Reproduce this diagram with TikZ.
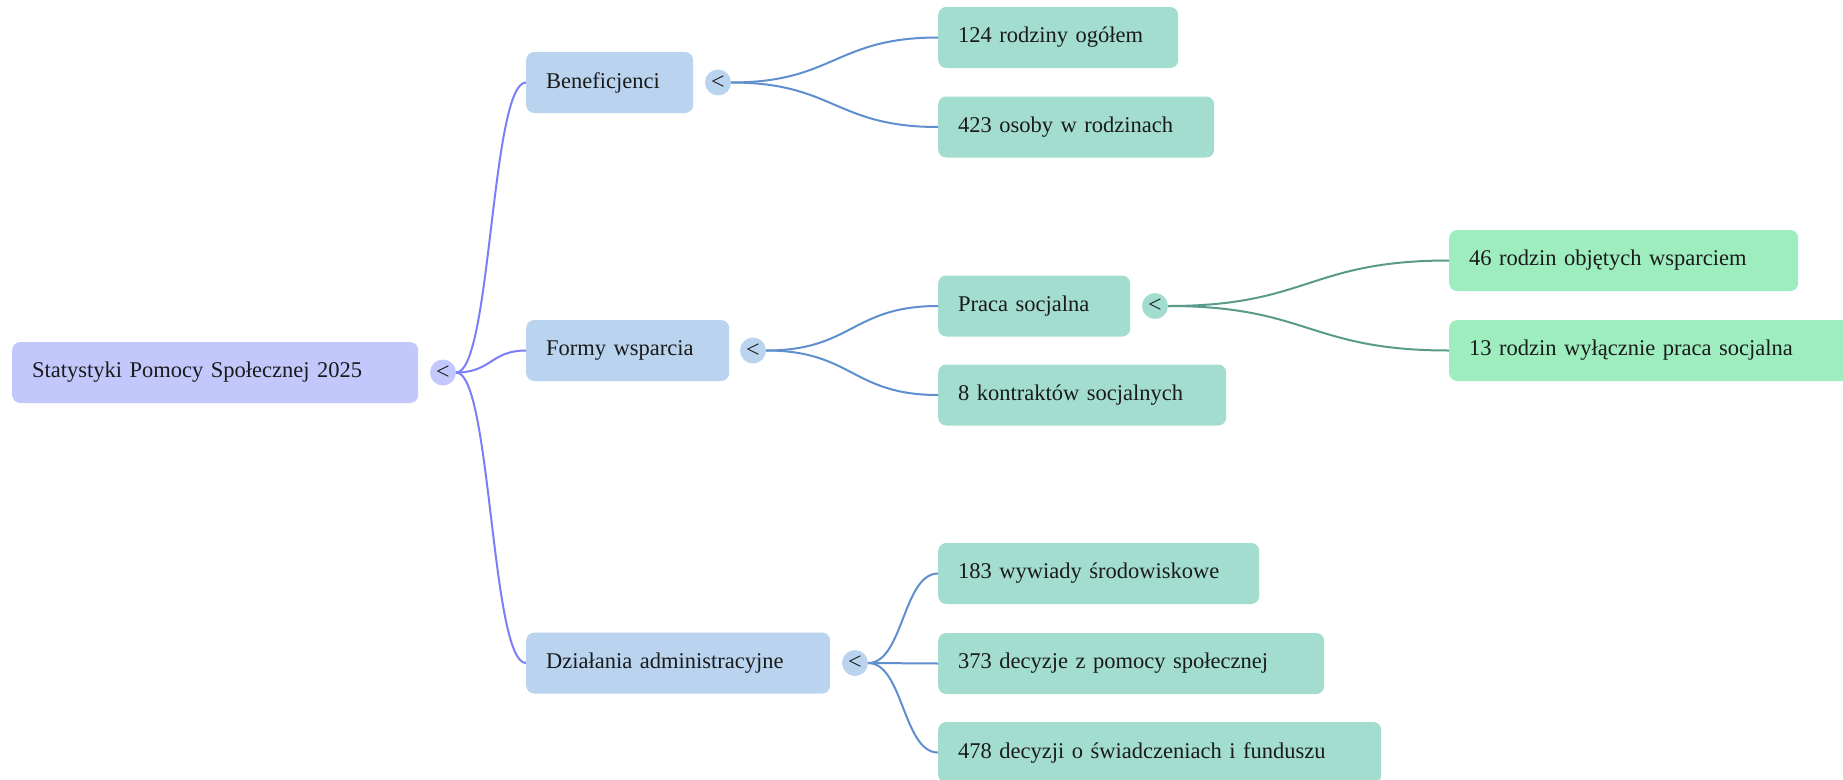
\documentclass[tikz,border=0pt]{standalone}
\usepackage{fontspec}
\setmainfont{Liberation Serif}
\definecolor{rootc}{HTML}{C3C8FC}
\definecolor{lonec}{HTML}{BAD4EF}
\definecolor{ltwoc}{HTML}{A2DDD0}
\definecolor{lthreec}{HTML}{9EEDBF}
\definecolor{rootedgec}{HTML}{7B7EF7}
\definecolor{loneedgec}{HTML}{5F8FCF}
\definecolor{ltwoedgec}{HTML}{5A9A8A}
\definecolor{txtc}{HTML}{1A1A1A}
\begin{document}
\begin{tikzpicture}[x=1pt,y=-1pt,
  box/.style={rounded corners=8pt, minimum height=61pt, inner xsep=20pt, inner ysep=0pt,
    anchor=west, align=left, text=txtc, font=\fontsize{22.5}{27}\selectfont},
  tog/.style={circle, minimum size=26pt, inner sep=0pt, text=txtc,
    font=\fontsize{24}{24}\selectfont},
  rootedge/.style={draw=rootedgec, line width=2pt},
  oneedge/.style={draw=loneedgec, line width=2pt},
  twoedge/.style={draw=ltwoedgec, line width=2pt}
]
\useasboundingbox (0,0) rectangle (1843,779);

% root
\node[box, fill=rootc, minimum width=406, text width=366] (root) at (12,372.5) {Statystyki Pomocy Społecznej 2025};
\node[tog, fill=rootc] (rt) at (443,372.5) {<};

% level 1
\node[box, fill=lonec, minimum width=167, text width=127] (ben) at (526,82.5) {Beneficjenci};
\node[tog, fill=lonec] (bent) at (718,82.5) {<};
\node[box, fill=lonec, minimum width=203, text width=163] (for) at (526,350.5) {Formy wsparcia};
\node[tog, fill=lonec] (fort) at (753,350.5) {<};
\node[box, fill=lonec, minimum width=304, text width=264] (dzi) at (526,663) {Działania administracyjne};
\node[tog, fill=lonec] (dzit) at (855,663) {<};

% level 2
\node[box, fill=ltwoc, minimum width=240, text width=200] (a1) at (938,37.5) {124 rodziny ogółem};
\node[box, fill=ltwoc, minimum width=276, text width=236] (a2) at (938,127) {423 osoby w rodzinach};
\node[box, fill=ltwoc, minimum width=192, text width=152] (b1) at (938,306) {Praca socjalna};
\node[tog, fill=ltwoc] (b1t) at (1155,306) {<};
\node[box, fill=ltwoc, minimum width=288, text width=248] (b2) at (938,395) {8 kontraktów socjalnych};
\node[box, fill=ltwoc, minimum width=321, text width=281] (c1) at (938,573.5) {183 wywiady środowiskowe};
\node[box, fill=ltwoc, minimum width=386, text width=346] (c2) at (938,663.5) {373 decyzje z pomocy społecznej};
\node[box, fill=ltwoc, minimum width=443, text width=403] (c3) at (938,752.5) {478 decyzji o świadczeniach i funduszu};

% level 3
\node[box, fill=lthreec, minimum width=349, text width=309] (d1) at (1449,260.5) {46 rodzin objętych wsparciem};
\node[box, fill=lthreec, minimum width=410, text width=370] (d2) at (1449,350.5) {13 rodzin wyłącznie praca socjalna};

% connectors
\draw[rootedge] (rt.east) .. controls +(35,0) and +(-35,0) .. (ben.west);
\draw[rootedge] (rt.east) .. controls +(35,0) and +(-35,0) .. (for.west);
\draw[rootedge] (rt.east) .. controls +(35,0) and +(-35,0) .. (dzi.west);

\draw[oneedge] (bent.east) .. controls +(103,0) and +(-103,0) .. (a1.west);
\draw[oneedge] (bent.east) .. controls +(103,0) and +(-103,0) .. (a2.west);
\draw[oneedge] (fort.east) .. controls +(86,0) and +(-86,0) .. (b1.west);
\draw[oneedge] (fort.east) .. controls +(86,0) and +(-86,0) .. (b2.west);
\draw[oneedge] (dzit.east) .. controls +(35,0) and +(-35,0) .. (c1.west);
\draw[oneedge] (dzit.east) .. controls +(35,0) and +(-35,0) .. (c2.west);
\draw[oneedge] (dzit.east) .. controls +(35,0) and +(-35,0) .. (c3.west);

\draw[twoedge] (b1t.east) .. controls +(140,0) and +(-140,0) .. (d1.west);
\draw[twoedge] (b1t.east) .. controls +(140,0) and +(-140,0) .. (d2.west);
\end{tikzpicture}
\end{document}
